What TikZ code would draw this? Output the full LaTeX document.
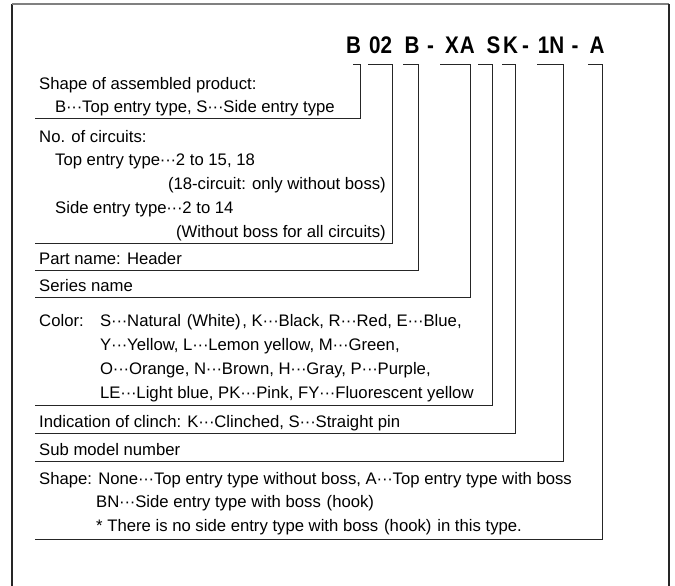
\documentclass[tikz,border=0pt]{standalone}
\usepackage{fontspec}
\setmainfont{Liberation Sans}
\newfontfamily\codefont[FakeStretch=0.86]{Liberation Sans}
\usetikzlibrary{positioning}

\newcommand\ldt{\hbox to 0.95em{\hss·\hss·\hss·\hss}}

\begin{document}
\begin{tikzpicture}[
        x = 1pt, y = -1pt,
        Code/.style = {anchor = base, inner sep = 0, font = \codefont\fontsize{24}{28}\selectfont\bfseries},
        %
        Text/.style = {anchor = base west, inner sep = 0, font = \fontsize{16.7}{24}\selectfont},
        %
        TextR/.style = {Text, anchor = base east},
        %
        Bracket/.style = {draw = black!85, line width = 0.9pt, preaction = {draw = black!30, line width = 0.9pt, transform canvas = {shift = {(0.8pt,-0.8pt)}}}},
    ]
        \useasboundingbox (0,0) rectangle (675,586);

        % Frame
        \draw[black!85, line width = 1.1pt] (12,586) -- (12,4);
        \draw[black!50, line width = 1.5pt] (12,4) -- (669,4);
        \draw[black!85, line width = 1.1pt] (669,4) -- (669,586);

        % Model number
        \node[Code] (cShape) at (353.5,54) {B};
        \node[Code] (cCirc) at (380.5,54) {02};
        \node[Code] (cPart) at (412,54) {B};
        \node[Code] (cDashA) at (430.5,54) {-};
        \node[Code] (cSeries) at (460,54) {X\kern1ptA};
        \node[Code] (cColor) at (493.5,54) {S};
        \node[Code] (cClinch) at (510.5,54) {K};
        \node[Code] (cDashB) at (525.5,54) {-};
        \node[Code] (cSub) at (551,54) {1N};
        \node[Code] (cDashC) at (575,54) {-};
        \node[Code] (cForm) at (597,54) {A};

        % Brackets
        \foreach \n/\xa/\xb/\yb in {Shape/353/360/118, Circ/368/392/243, Part/403/418/270, Series/440/470/297,
                Color/478/492/405, Clinch/502/515/433, Sub/537/563/461, Form/588/602/539} {
            \coordinate (t\n) at (\xa,64);
            \coordinate (k\n) at (\xb,\yb);
            \coordinate (b\n) at (35,\yb);
            \draw[Bracket] (t\n) -| (k\n) -- (b\n);
        }

        % Shape of assembled product
        \node[Text] (ShapeA) at (39,89) {Shape of assembled product:};
        \node[Text] (ShapeB) at (55,112) {B\ldt Top entry type, S\ldt Side entry type};

        % No. of circuits
        \node[Text] (CircA) at (39,142) {No. of circuits:};
        \node[Text] (CircB) at (55,165) {Top entry type\ldt 2 to 15, 18};
        \node[TextR] (CircC) at (386,189) {(18-circuit: only without boss)};
        \node[Text] (CircD) at (55,213) {Side entry type\ldt 2 to 14};
        \node[TextR] (CircE) at (386,237) {(Without boss for all circuits)};

        % Part name, series
        \node[Text] (PartA) at (39,264) {Part name: Header};
        \node[Text] (SeriesA) at (39,291) {Series name};

        % Color
        \node[Text] (ColorA) at (39,326) {Color:};
        \node[Text] (ColorB) at (100,326) {S\ldt Natural\hspace{0.35em}(White)\hspace{0.1em}, K\ldt Black, R\ldt Red, E\ldt Blue,};
        \node[Text] (ColorC) at (100,350) {Y\ldt Yellow, L\ldt Lemon yellow, M\ldt Green,};
        \node[Text] (ColorD) at (100,374) {O\ldt Orange, N\ldt Brown, H\ldt Gray, P\ldt Purple,};
        \node[Text] (ColorE) at (100,398) {LE\ldt Light blue, PK\ldt Pink, FY\ldt Fluorescent yellow};

        % Clinch, sub model
        \node[Text] (ClinchA) at (39,427) {Indication of clinch: K\ldt Clinched, S\ldt Straight pin};
        \node[Text] (SubA) at (39,455) {Sub model number};

        % Shape
        \node[Text] (FormA) at (39,484) {Shape: None\ldt Top entry type without boss, A\ldt Top entry type with boss};
        \node[Text] (FormB) at (96,507) {BN\ldt Side entry type with boss\hspace{0.35em}(hook)};
        \node[Text] (FormC) at (96,531) {* There is no side entry type with boss\hspace{0.35em}(hook)\hspace{0.35em}in this type.};

    \end{tikzpicture}
\end{document}
